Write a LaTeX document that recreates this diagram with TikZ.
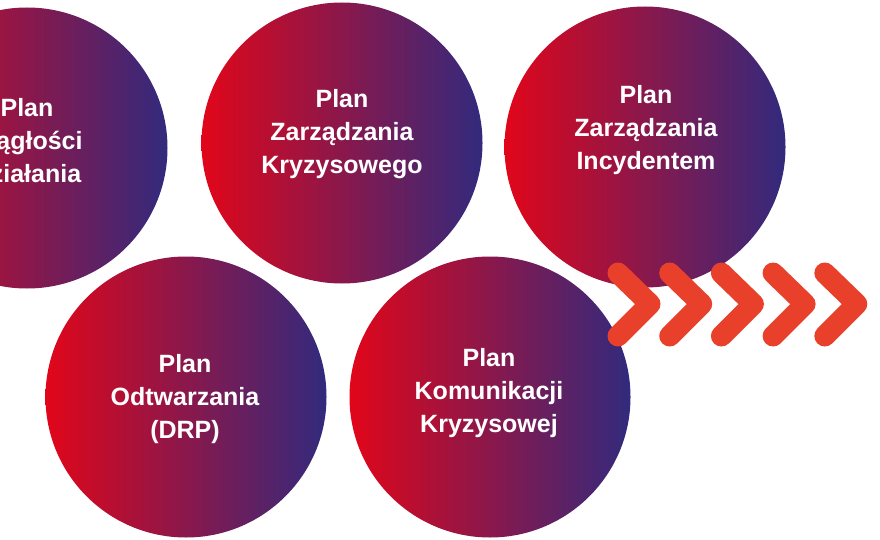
\documentclass[tikz,border=0pt]{standalone}
\usepackage{fontspec}
\setmainfont{Liberation Sans}
\definecolor{gL}{HTML}{E1061A}
\definecolor{gM}{HTML}{8C1848}
\definecolor{gR}{HTML}{322A7D}
\definecolor{chev}{HTML}{E8402A}
\tikzset{
  plancircle/.style={circle, minimum size=281pt, inner sep=0pt, draw=none,
    left color=gL, middle color=gM, right color=gR},
  plantext/.style={text=white, font=\bfseries\fontsize{25}{33}\selectfont, align=center, inner sep=0pt},
  chevline/.style={draw=chev, line width=21pt, line cap=round, line join=round}
}
\begin{document}
\begin{tikzpicture}[x=1pt,y=-1pt]
\useasboundingbox (0,0) rectangle (880,540);
\clip (0,0) rectangle (880,540);
\node[plancircle] (c1) at (27,148) {};
\node[plancircle] (c2) at (342,143) {};
\node[plancircle] (c3) at (645,147) {};
\node[plancircle] (c4) at (186,397) {};
\node[plancircle] (c5) at (490,397) {};
\node[plantext] (t1) at (27,141) {Plan\\Ciągłości\\Działania};
\node[plantext] (t2) at (342,134) {Plan\\Zarządzania\\Kryzysowego};
\node[plantext] (t3) at (646,130) {Plan\\Zarządzania\\Incydentem};
\node[plantext] (t4) at (185,399) {Plan\\Odtwarzania\\(DRP)};
\node[plantext] (t5) at (489,393) {Plan\\Komunikacji\\Kryzysowej};
\foreach \i in {0,...,4}{
  \coordinate (a\i) at (618+51.7*\i,273);
  \coordinate (b\i) at (650+51.7*\i,304);
  \coordinate (e\i) at (618+51.7*\i,336);
  \draw[chevline] (a\i) -- (b\i) -- (e\i);
}
\end{tikzpicture}
\end{document}
